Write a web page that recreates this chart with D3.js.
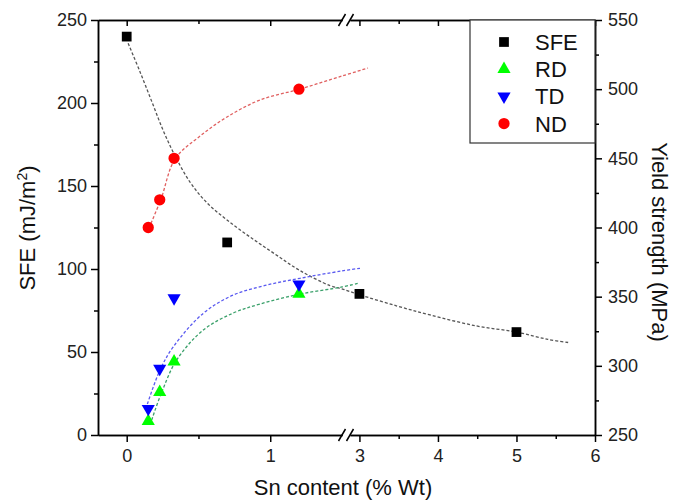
<!DOCTYPE html>
<html>
<head>
<meta charset="utf-8">
<script src="https://cdn.jsdelivr.net/npm/d3@7"></script>
<style>
body { margin: 0; background: #fff; }
svg { font-family: "Liberation Sans", Arial, sans-serif; }
.axis .domain, .axis line { stroke: #000; stroke-width: 1.5px; }
.axis text { font-size: 18px; fill: #222; font-family: "Liberation Sans", Arial, sans-serif; }
</style>
</head>
<body>
<svg width="685" height="504"></svg>
<script>
// measured points (Sn content in wt%)
var snX = [0.15, 0.23, 0.33, 1.2];
var sfeX = [0, 0.7, 3, 5];
var sfeVals = [240, 116, 85, 62];          // mJ/m2, left axis
var rdVals = [260, 281, 303, 352];         // MPa, right axis
var tdVals = [269, 298, 349, 359];
var ndVals = [400, 420, 450, 500];

// dashed fit curves
var sfeFit = [[0.01, 236], [0.093, 218.7], [0.176, 200.6], [0.253, 183.7], [0.337, 168.1], [0.441, 152.4],
              [0.56, 139.8], [0.699, 129.5], [0.859, 119.3], [1.033, 109], [1.208, 99], [1.417, 90], [1.5, 88],
              [3, 84.5], [3.48, 77.7], [3.9, 72.3], [4.49, 65.7], [5, 62], [5.4, 57.6], [5.68, 55.6]];
var rdFit = [[0.174, 260.8], [0.239, 279.6], [0.348, 304.2], [0.534, 325.9], [0.743, 338.2], [0.929, 344.7],
             [1.208, 351.9], [1.5, 357], [2.986, 359.7]];
var tdFit = [[0.144, 272.4], [0.232, 297], [0.325, 313.8], [0.534, 338], [0.743, 351.2], [0.964, 358.1],
             [1.208, 363.3], [1.5, 368.6], [3.007, 370.5]];
var ndFit = [[0.155, 399.6], [0.239, 420.6], [0.337, 449.5], [0.511, 466.1], [0.699, 479.9], [0.929, 492.2],
             [1.208, 500.1], [1.5, 509.5], [3.109, 515.3]];

var sfeTicks = [0, 50, 100, 150, 200, 250];
var sfeMinor = [25, 75, 125, 175, 225];
var ysTicks = [250, 300, 350, 400, 450, 500, 550];
var ysMinor = [275, 325, 375, 425, 475, 525];
var xTicksLo = [0, 1], xMinorLo = [0.5];
var xTicksHi = [3, 4, 5, 6], xMinorHi = [3.5, 4.5, 5.5];

var series = [
    {name: "SFE", color: "#000", type: d3.symbolSquare, size: 95, rot: 0},
    {name: "RD", color: "#00ff00", type: d3.symbolTriangle, size: 75, rot: 0},
    {name: "TD", color: "#0000ff", type: d3.symbolTriangle, size: 75, rot: 180},
    {name: "ND", color: "#ff0000", type: d3.symbolCircle, size: 100, rot: 0}
];

var svg = d3.select("svg");

var plotL = 98, plotR = 595, plotT = 20, plotB = 435;

var xLo = d3.scaleLinear().domain([-0.2, 1.5]).range([plotL, 342]);
var xHi = d3.scaleLinear().domain([2.88, 6]).range([350, plotR]);
function x(v) {
    if (v <= 1.5) return xLo(v);
    if (v >= 2.88) return xHi(v);
    return xLo(1.5) + (v - 1.5) / (2.88 - 1.5) * (xHi(2.88) - xLo(1.5));
}
var yL = d3.scaleLinear().domain([0, 250]).range([plotB, plotT]);
var yR = d3.scaleLinear().domain([250, 550]).range([plotB, plotT]);

// fit curves
var line = d3.line().curve(d3.curveCatmullRom.alpha(0.5));
function drawFit(pts, y, color) {
    svg.append("path")
        .attr("d", line(pts.map(function(p) { return [x(p[0]), y(p[1])]; })))
        .attr("fill", "none")
        .attr("stroke", color)
        .attr("stroke-width", 1.3)
        .attr("stroke-dasharray", "3,2");
}
drawFit(sfeFit, yL, "#555");
drawFit(rdFit, yR, "#3aa06a");
drawFit(tdFit, yR, "#5a5af0");
drawFit(ndFit, yR, "#e06060");

// markers
function drawPts(xs, vals, y, s) {
    svg.append("g").selectAll("path")
        .data(vals)
        .join("path")
        .attr("d", d3.symbol().type(s.type).size(s.size))
        .attr("transform", function(d, i) { return "translate(" + x(xs[i]) + "," + y(d) + ") rotate(" + s.rot + ")"; })
        .attr("fill", s.color);
}
drawPts(sfeX, sfeVals, yL, series[0]);
drawPts(snX, rdVals, yR, series[1]);
drawPts(snX, tdVals, yR, series[2]);
drawPts(snX, ndVals, yR, series[3]);

// axes
var fmt = d3.format("d");
function axis(gen, tr) {
    return svg.append("g").attr("class", "axis").attr("transform", tr).call(gen);
}
axis(d3.axisLeft(yL).tickValues(sfeTicks).tickSize(7).tickSizeOuter(0).tickPadding(4).tickFormat(fmt), "translate(" + plotL + ",0)");
axis(d3.axisLeft(yL).tickValues(sfeMinor).tickSize(4).tickSizeOuter(0).tickFormat(""), "translate(" + plotL + ",0)");
axis(d3.axisRight(yR).tickValues(ysTicks).tickSize(7).tickSizeOuter(0).tickPadding(6).tickFormat(fmt), "translate(" + plotR + ",0)");
axis(d3.axisRight(yR).tickValues(ysMinor).tickSize(4).tickSizeOuter(0).tickFormat(""), "translate(" + plotR + ",0)");

axis(d3.axisBottom(xLo).tickValues(xTicksLo).tickSize(7).tickSizeOuter(0).tickPadding(7).tickFormat(fmt), "translate(0," + plotB + ")");
axis(d3.axisBottom(xLo).tickValues(xMinorLo).tickSize(4).tickSizeOuter(0).tickFormat(""), "translate(0," + plotB + ")");
axis(d3.axisBottom(xHi).tickValues(xTicksHi).tickSize(7).tickSizeOuter(0).tickPadding(7).tickFormat(fmt), "translate(0," + plotB + ")");
axis(d3.axisBottom(xHi).tickValues(xMinorHi).tickSize(4).tickSizeOuter(0).tickFormat(""), "translate(0," + plotB + ")");

// top axis, ticks point into the plot
axis(d3.axisBottom(xLo).tickValues(xTicksLo).tickSize(6).tickSizeOuter(0).tickFormat(""), "translate(0," + plotT + ")");
axis(d3.axisBottom(xLo).tickValues(xMinorLo).tickSize(4).tickSizeOuter(0).tickFormat(""), "translate(0," + plotT + ")");
axis(d3.axisBottom(xHi).tickValues(xTicksHi).tickSize(6).tickSizeOuter(0).tickFormat(""), "translate(0," + plotT + ")");
axis(d3.axisBottom(xHi).tickValues(xMinorHi).tickSize(4).tickSizeOuter(0).tickFormat(""), "translate(0," + plotT + ")");

// break marks
[plotT, plotB].forEach(function(yy) {
    [xLo(1.5), xHi(2.88)].forEach(function(xx) {
        svg.append("line")
            .attr("x1", xx - 3.5).attr("y1", yy + 6)
            .attr("x2", xx + 3.5).attr("y2", yy - 6)
            .attr("stroke", "#000").attr("stroke-width", 1.5);
    });
});

// legend
var lg = svg.append("g");
lg.append("rect")
    .attr("x", 470).attr("y", plotT)
    .attr("width", plotR - 470).attr("height", 123)
    .attr("fill", "#fff").attr("stroke", "#333").attr("stroke-width", 1.2);
series.forEach(function(s, i) {
    var cy = 42 + i * 27.2;
    lg.append("path")
        .attr("d", d3.symbol().type(s.type).size(s.size))
        .attr("transform", "translate(504," + cy + ") rotate(" + s.rot + ")")
        .attr("fill", s.color);
    lg.append("text")
        .attr("x", 535).attr("y", cy + 8)
        .attr("font-size", 22).attr("fill", "#111")
        .text(s.name);
});

// titles
svg.append("text")
    .attr("x", 343).attr("y", 495)
    .attr("text-anchor", "middle").attr("font-size", 22).attr("fill", "#111")
    .text("Sn content (% Wt)");

var lt = svg.append("text")
    .attr("transform", "translate(35,228) rotate(-90)")
    .attr("text-anchor", "middle").attr("font-size", 22).attr("fill", "#111");
lt.append("tspan").text("SFE (mJ/m");
lt.append("tspan").attr("dy", -8).attr("font-size", 14).text("2");
lt.append("tspan").attr("dy", 8).text(")");

svg.append("text")
    .attr("transform", "translate(652,242) rotate(90)")
    .attr("text-anchor", "middle").attr("font-size", 22).attr("fill", "#111")
    .text("Yield strength (MPa)");
</script>
</body>
</html>
